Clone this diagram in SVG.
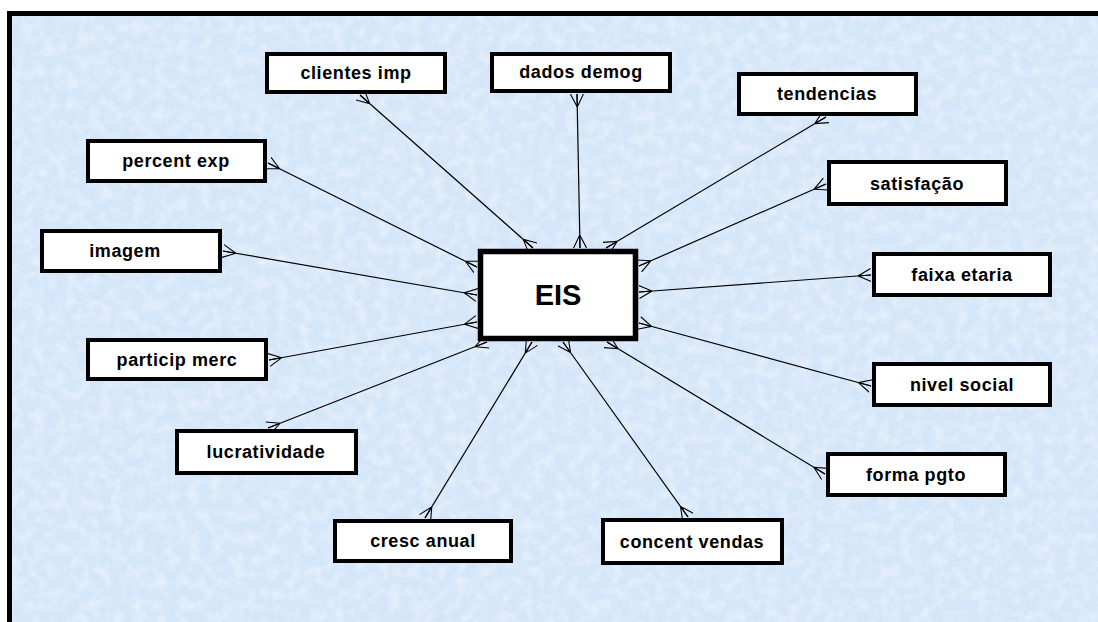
<svg xmlns="http://www.w3.org/2000/svg" width="1098" height="622" viewBox="0 0 1098 622">
  <style>
    .box { fill: #ffffff; stroke: #000000; stroke-width: 4; }
    .hub { fill: #ffffff; stroke: #000000; stroke-width: 5.5; }
    .lbl { font-family: "Liberation Sans", Arial, sans-serif; font-weight: bold; font-size: 18px; letter-spacing: 0.6px; fill: #000000; text-anchor: middle; }
    .hubtxt { font-family: "Liberation Sans", Arial, sans-serif; font-weight: bold; font-size: 29px; fill: #000000; text-anchor: middle; }
    .rel { fill: none; stroke: #000000; stroke-width: 1.2; marker-start: url(#crow); marker-end: url(#crow); }
  </style>
  <defs>
    <!-- crow's foot: prongs spread at the entity edge, join 13px inward -->
    <marker id="crow" viewBox="0 0 13 14" refX="13" refY="7" markerWidth="13" markerHeight="14" markerUnits="userSpaceOnUse" orient="auto-start-reverse">
      <path d="M0,7 L13,0.5 M0,7 L13,7 M0,7 L13,13.5" fill="none" stroke="#000000" stroke-width="1.1"/>
    </marker>
    <!-- fine mottled paper grain -->
    <filter id="mottle" x="0" y="0" width="100%" height="100%">
      <feTurbulence type="fractalNoise" baseFrequency="0.09" numOctaves="4" seed="7" result="n"/>
      <feColorMatrix in="n" type="matrix" values="0 0 0 0 1  0 0 0 0 1  0 0 0 0 1  0 0 0 1.6 -0.6"/>
    </filter>
    <filter id="mottleDark" x="0" y="0" width="100%" height="100%">
      <feTurbulence type="fractalNoise" baseFrequency="0.07" numOctaves="3" seed="21" result="n"/>
      <feColorMatrix in="n" type="matrix" values="0 0 0 0 0.62  0 0 0 0 0.78  0 0 0 0 0.96  0 0 0 1.6 -0.75"/>
    </filter>
  </defs>

  <!-- paper -->
  <rect x="0" y="0" width="1098" height="622" fill="#ffffff"/>
  <rect x="10" y="14" width="1088" height="608" fill="#d5e6f9"/>
  <rect x="10" y="14" width="1088" height="608" filter="url(#mottleDark)" opacity="0.45"/>
  <rect x="10" y="14" width="1088" height="608" filter="url(#mottle)" opacity="0.5"/>
  <!-- frame -->
  <path d="M9.5,622 L9.5,13.5 L1098,13.5" fill="none" stroke="#000000" stroke-width="5"/>

  <!-- relationships -->
  <g id="connectors">
    <path class="rel" d="M360,95 L533,248"/>
    <path class="rel" d="M577,94 L580,248"/>
    <path class="rel" d="M826,117 L606,248"/>
    <path class="rel" d="M268,163 L477,267"/>
    <path class="rel" d="M826,184 L639,266"/>
    <path class="rel" d="M223,251 L477,295"/>
    <path class="rel" d="M871,275 L639,292"/>
    <path class="rel" d="M269,360 L477,322"/>
    <path class="rel" d="M871,386 L639,323"/>
    <path class="rel" d="M268,428 L487,342"/>
    <path class="rel" d="M825,474 L607,342"/>
    <path class="rel" d="M425,518 L532,342"/>
    <path class="rel" d="M688,517 L563,342"/>
  </g>

  <g id="n-eis">
    <rect class="hub" x="480.5" y="251.5" width="155" height="87"/>
    <text class="hubtxt" x="558" y="305">EIS</text>
  </g>
  <g id="n-clientes-imp">
    <rect class="box" x="267" y="54" width="178" height="38"/>
    <text class="lbl" x="356" y="79">clientes imp</text>
  </g>
  <g id="n-dados-demog">
    <rect class="box" x="492" y="54" width="178" height="37"/>
    <text class="lbl" x="581" y="78">dados demog</text>
  </g>
  <g id="n-tendencias">
    <rect class="box" x="739" y="74" width="177" height="40"/>
    <text class="lbl" x="827" y="100">tendencias</text>
  </g>
  <g id="n-percent-exp">
    <rect class="box" x="88" y="141" width="177" height="40"/>
    <text class="lbl" x="176" y="167">percent exp</text>
  </g>
  <g id="n-satisfacao">
    <rect class="box" x="829" y="162" width="177" height="42"/>
    <text class="lbl" x="917" y="190">satisfação</text>
  </g>
  <g id="n-imagem">
    <rect class="box" x="42" y="231" width="178" height="40"/>
    <text class="lbl" x="125" y="257">imagem</text>
  </g>
  <g id="n-faixa-etaria">
    <rect class="box" x="874" y="254" width="176" height="41"/>
    <text class="lbl" x="962" y="281">faixa etaria</text>
  </g>
  <g id="n-particip-merc">
    <rect class="box" x="88" y="340" width="178" height="39"/>
    <text class="lbl" x="177" y="366">particip merc</text>
  </g>
  <g id="n-nivel-social">
    <rect class="box" x="874" y="364" width="176" height="41"/>
    <text class="lbl" x="962" y="391">nivel social</text>
  </g>
  <g id="n-lucratividade">
    <rect class="box" x="177" y="431" width="179" height="42"/>
    <text class="lbl" x="266" y="458">lucratividade</text>
  </g>
  <g id="n-forma-pgto">
    <rect class="box" x="828" y="454" width="177" height="41"/>
    <text class="lbl" x="916" y="481">forma pgto</text>
  </g>
  <g id="n-cresc-anual">
    <rect class="box" x="335" y="521" width="176" height="40"/>
    <text class="lbl" x="423" y="547">cresc anual</text>
  </g>
  <g id="n-concent-vendas">
    <rect class="box" x="603" y="520" width="179" height="43"/>
    <text class="lbl" x="692" y="548">concent vendas</text>
  </g>
</svg>
